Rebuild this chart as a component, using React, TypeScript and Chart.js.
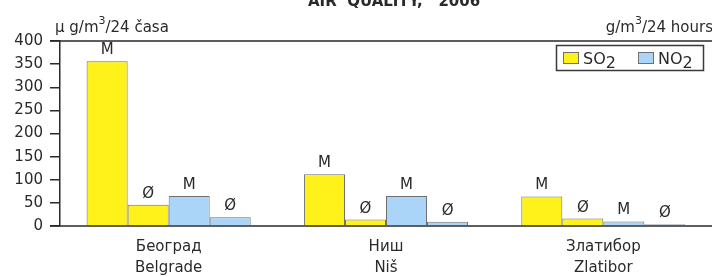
import React, { useEffect, useRef } from "react";
import { Chart, registerables } from "chart.js";

Chart.register(...registerables);

const categories = [["Београд", "Belgrade"], ["Ниш", "Niš"], ["Златибор", "Zlatibor"]];
const so2Max = [356, 112, 64];
const so2Avg = [46, 14, 16];
const no2Max = [65, 65, 10];
const no2Avg = [19, 9, 4];
const barLabels = ["M", "Ø", "M", "Ø"];
const seriesNames = ["SO", "NO"];
const titleText = "AIR  QUALITY,   2006";
const leftUnit = ["μ g/m", "3", "/24 časa"];
const rightUnit = ["g/m", "3", "/24 hours"];

const FONT = "'DejaVu Sans', 'Liberation Sans', Arial, sans-serif";
const YELLOW = "#fff21a";
const BLUE = "#aad5f8";
const EDGE = "#707070";
const DARK = "#2a2a2a";

function drawSup(ctx: CanvasRenderingContext2D, parts: string[], x: number, y: number, size: number, alignRight = false) {
  ctx.save();
  ctx.textBaseline = "alphabetic";
  ctx.textAlign = "left";
  ctx.fillStyle = DARK;
  const big = `${size}px ${FONT}`;
  const small = `${Math.round(size * 0.75)}px ${FONT}`;
  ctx.font = big;
  const w0 = ctx.measureText(parts[0]).width;
  const w2 = ctx.measureText(parts[2]).width;
  ctx.font = small;
  const w1 = ctx.measureText(parts[1]).width;
  let cx = alignRight ? x - (w0 + w1 + w2) : x;
  ctx.font = big;
  ctx.fillText(parts[0], cx, y);
  cx += w0;
  ctx.font = small;
  ctx.fillText(parts[1], cx, y - 8);
  cx += w1;
  ctx.font = big;
  ctx.fillText(parts[2], cx, y);
  ctx.restore();
}

const decorPlugin = {
  id: "decor",
  afterDraw(chart: any) {
    const ctx: CanvasRenderingContext2D = chart.ctx;
    const { left, right, top, bottom } = chart.chartArea;
    ctx.save();
    // frame lines
    ctx.strokeStyle = DARK;
    ctx.lineWidth = 1.5;
    ctx.beginPath();
    ctx.moveTo(left - 10, top);
    ctx.lineTo(chart.width, top);
    ctx.moveTo(left - 10, bottom);
    ctx.lineTo(chart.width, bottom);
    ctx.stroke();

    // bar labels
    ctx.fillStyle = DARK;
    ctx.font = `15px ${FONT}`;
    ctx.textAlign = "center";
    ctx.textBaseline = "alphabetic";
    chart.data.datasets.forEach((_ds: any, i: number) => {
      const meta = chart.getDatasetMeta(i);
      meta.data.forEach((bar: any) => {
        ctx.fillText(barLabels[i], bar.x, bar.y - 7);
      });
    });

    // title
    ctx.font = `bold 15px ${FONT}`;
    ctx.textAlign = "left";
    ctx.fillText(titleText, 308, 6);

    // unit labels
    drawSup(ctx, leftUnit, 55, 32, 15);
    drawSup(ctx, rightUnit, 713, 32, 15, true);

    // legend
    ctx.strokeStyle = "#3a3a3a";
    ctx.lineWidth = 1.5;
    ctx.strokeRect(556.5, 45.5, 147, 25);
    const items = [
      { x: 563, color: YELLOW, name: seriesNames[0] },
      { x: 638, color: BLUE, name: seriesNames[1] },
    ];
    items.forEach((it) => {
      ctx.fillStyle = it.color;
      ctx.fillRect(it.x, 52.5, 15, 11);
      ctx.strokeStyle = EDGE;
      ctx.lineWidth = 1;
      ctx.strokeRect(it.x + 0.5, 52.5, 15, 11);
      ctx.fillStyle = DARK;
      ctx.font = `16px ${FONT}`;
      const tx = it.x + 20;
      ctx.fillText(it.name, tx, 64);
      const w = ctx.measureText(it.name).width;
      ctx.fillText("2", tx + w, 68);
    });
    ctx.restore();
  },
};

export default function App() {
  const ref = useRef<HTMLCanvasElement | null>(null);
  useEffect(() => {
    if (!ref.current) return;
    const chart = new Chart(ref.current, {
      type: "bar",
      data: {
        labels: categories,
        datasets: [
          { label: "SO2 M", data: so2Max, backgroundColor: YELLOW },
          { label: "SO2 Ø", data: so2Avg, backgroundColor: YELLOW },
          { label: "NO2 M", data: no2Max, backgroundColor: BLUE },
          { label: "NO2 Ø", data: no2Avg, backgroundColor: BLUE },
        ].map((d) => ({
          ...d,
          borderColor: EDGE,
          borderWidth: 1,
          categoryPercentage: 0.755,
          barPercentage: 1,
        })),
      },
      options: {
        animation: false,
        responsive: true,
        maintainAspectRatio: false,
        layout: { padding: { top: 41, right: 0, left: 0, bottom: 0 } },
        plugins: { legend: { display: false }, tooltip: { enabled: false }, title: { display: false } },
        scales: {
          x: {
            grid: { display: false, drawTicks: false },
            border: { display: false },
            ticks: {
              color: DARK,
              padding: 10,
              maxRotation: 0,
              font: { family: FONT, size: 15, lineHeight: 1.42 },
            },
            afterFit: (s: any) => {
              s.height = 51;
            },
          },
          y: {
            min: 0,
            max: 400,
            grid: { drawOnChartArea: false, drawTicks: true, tickLength: 10, color: DARK, lineWidth: 1.5 },
            border: { display: true, color: DARK, width: 1.5 },
            ticks: {
              stepSize: 50,
              color: DARK,
              padding: 7,
              font: { family: FONT, size: 15 },
            },
            afterFit: (s: any) => {
              s.width = 60;
            },
          },
        },
      },
      plugins: [decorPlugin],
    });
    return () => chart.destroy();
  }, []);
  return (
    <div style={{ position: "absolute", left: 0, top: 0, width: 712, height: 277, background: "#fff" }}>
      <canvas ref={ref} />
    </div>
  );
}
